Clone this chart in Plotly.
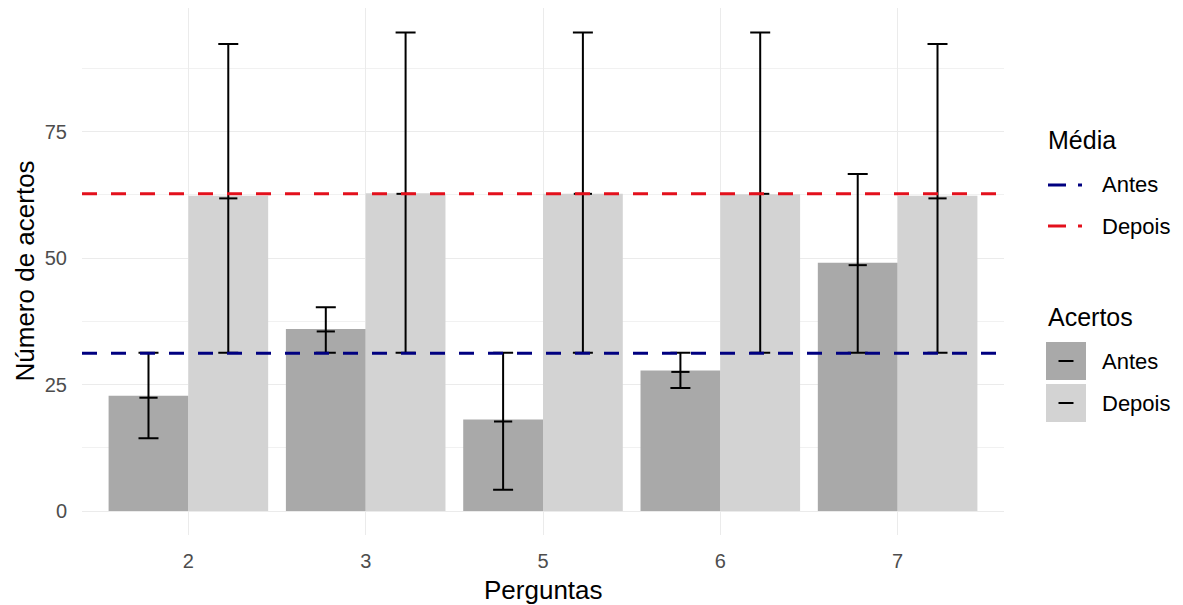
import plotly.graph_objects as go

# ---------------- data ----------------
perguntas = ["2", "3", "5", "6", "7"]
antes = [22.8, 36.0, 18.1, 27.8, 49.1]
depois = [62.3, 62.8, 62.7, 62.6, 62.3]

antes_mid = [22.4, 35.5, 17.7, 27.5, 48.6]
antes_low = [14.4, 31.3, 4.2, 24.3, 31.3]
antes_high = [31.3, 40.3, 31.3, 31.3, 66.6]

depois_mid = [61.8, 62.7, 62.7, 62.7, 61.8]
depois_low = [31.3, 31.3, 31.3, 31.3, 31.3]
depois_high = [92.3, 94.6, 94.6, 94.6, 92.3]

media_antes = 31.2
media_depois = 62.7

y_ticks = [0, 25, 50, 75]

# ---------------- style ----------------
FONT = "Liberation Sans"
COL_ANTES = "#A9A9A9"
COL_DEPOIS = "#D3D3D3"
COL_NAVY = "#000080"
COL_RED = "#E3101C"
GRID = "#EBEBEB"

W, H = 1183, 605
ML, MR, MT, MB = 82, 179, 8, 70
PW, PH = W - ML - MR, H - MT - MB


def px(x):
    return (x - ML) / PW


def py(y):
    return (H - MB - y) / PH


pos = list(range(1, len(perguntas) + 1))
dodge = 0.225

fig = go.Figure()
fig.add_trace(go.Bar(x=pos, y=antes, name="Antes", marker=dict(color=COL_ANTES, line=dict(width=0)),
                     showlegend=False))
fig.add_trace(go.Bar(x=pos, y=depois, name="Depois", marker=dict(color=COL_DEPOIS, line=dict(width=0)),
                     showlegend=False))

for mid, low, high, sgn in [(antes_mid, antes_low, antes_high, -1),
                            (depois_mid, depois_low, depois_high, 1)]:
    fig.add_trace(go.Scatter(
        x=[p + sgn * dodge for p in pos], y=mid, mode="markers",
        marker=dict(symbol="line-ew", size=13, line=dict(width=2, color="black"), color="black"),
        error_y=dict(type="data", symmetric=False,
                     array=[h - m for h, m in zip(high, mid)],
                     arrayminus=[m - l for m, l in zip(mid, low)],
                     color="black", thickness=2, width=10),
        showlegend=False, hoverinfo="skip"))

# mean lines
for val, col in [(media_antes, COL_NAVY), (media_depois, COL_RED)]:
    fig.add_shape(type="line", xref="paper", x0=0, x1=1, yref="y", y0=val, y1=val,
                  line=dict(color=col, width=3, dash="15px,14px"), layer="above")

# ---------------- manual legend ----------------
ann = []
shapes = []
LX = 1046
ann.append(dict(text="Média", x=px(LX), y=py(140), xanchor="left", yanchor="middle",
                font=dict(size=25, color="black", family=FONT)))
for yy, col, lab in [(185, COL_NAVY, "Antes"), (226, COL_RED, "Depois")]:
    shapes.append(dict(type="line", xref="paper", yref="paper", x0=px(1048), x1=px(1066),
                       y0=py(yy), y1=py(yy), line=dict(color=col, width=3)))
    shapes.append(dict(type="line", xref="paper", yref="paper", x0=px(1078), x1=px(1082),
                       y0=py(yy), y1=py(yy), line=dict(color=col, width=3)))
    ann.append(dict(text=lab, x=px(1100), y=py(yy), xanchor="left", yanchor="middle",
                    font=dict(size=22, color="black", family=FONT)))

ann.append(dict(text="Acertos", x=px(LX), y=py(317), xanchor="left", yanchor="middle",
                font=dict(size=25, color="black", family=FONT)))
for y0, y1, col, lab in [(342, 380, COL_ANTES, "Antes"), (384, 422, COL_DEPOIS, "Depois")]:
    shapes.append(dict(type="rect", xref="paper", yref="paper", x0=px(1046), x1=px(1086),
                       y0=py(y1), y1=py(y0), fillcolor=col, line=dict(width=0)))
    yc = (y0 + y1) / 2
    shapes.append(dict(type="line", xref="paper", yref="paper", x0=px(1058.5), x1=px(1073.5),
                       y0=py(yc), y1=py(yc), line=dict(color="black", width=2)))
    ann.append(dict(text=lab, x=px(1100), y=py(yc), xanchor="left", yanchor="middle",
                    font=dict(size=22, color="black", family=FONT)))

# axis titles
ann.append(dict(text="Perguntas", x=0.5, y=py(590), xanchor="center", yanchor="middle",
                font=dict(size=26, color="black", family=FONT)))
ann.append(dict(text="Número de acertos", x=px(24), y=0.5, xanchor="center", yanchor="middle",
                textangle=-90, font=dict(size=26, color="black", family=FONT)))

for a in ann:
    a.update(xref="paper", yref="paper", showarrow=False)

fig.update_layout(
    width=W, height=H,
    margin=dict(l=ML, r=MR, t=MT, b=MB, pad=0),
    paper_bgcolor="white", plot_bgcolor="white",
    barmode="group", bargap=0.1, bargroupgap=0,
    font=dict(family=FONT),
    annotations=ann,
    shapes=list(fig.layout.shapes) + shapes,
    showlegend=False,
)
fig.update_xaxes(
    range=[0.4, len(perguntas) + 0.6], tickmode="array", tickvals=pos, ticktext=perguntas,
    showgrid=True, gridcolor=GRID, gridwidth=1.2, zeroline=False, showline=False,
    ticks="", tickfont=dict(size=20, color="#4D4D4D", family=FONT), ticklabelstandoff=12,
)
fig.update_yaxes(
    range=[-4.735, 99.43], tickmode="array", tickvals=y_ticks,
    showgrid=True, gridcolor=GRID, gridwidth=1.2, zeroline=False, showline=False,
    minor=dict(dtick=12.5, tick0=0, showgrid=True, gridcolor="#F1F1F1", gridwidth=1),
    ticks="", tickfont=dict(size=20, color="#4D4D4D", family=FONT), ticklabelstandoff=14,
)

fig.write_html("out.html")
